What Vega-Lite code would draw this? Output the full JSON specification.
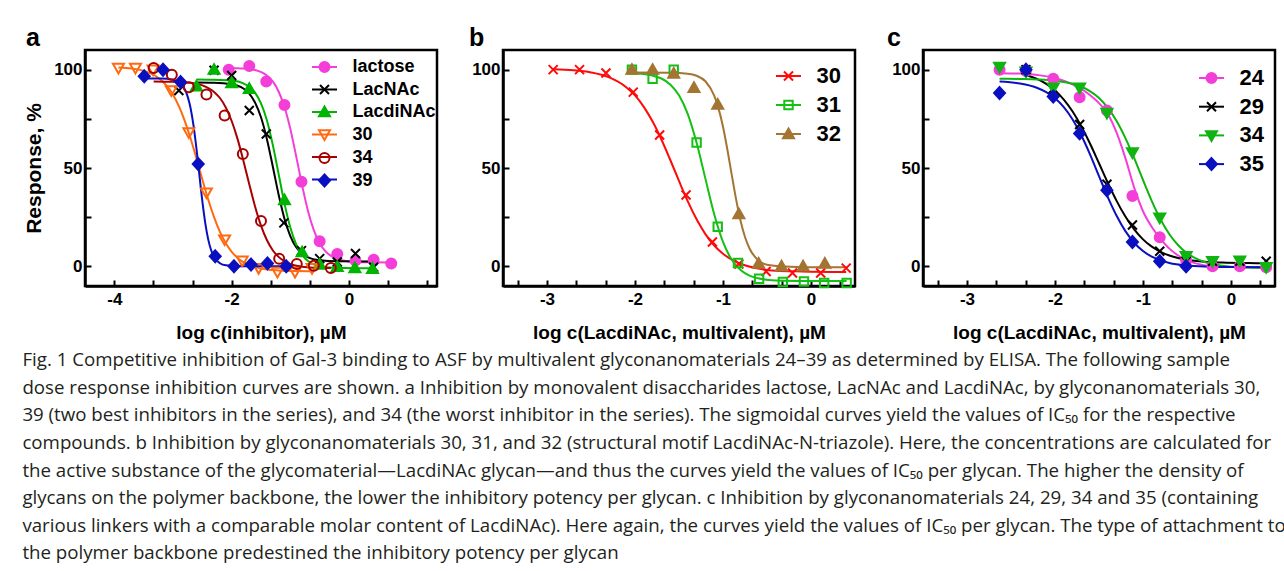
{
"$schema":"https://vega.github.io/schema/vega-lite/v6.json",
"background":"white",
"padding":{"left":22,"top":24,"right":0,"bottom":0},
"spacing":28,
"title":{"text":[
"Fig. 1  Competitive inhibition of Gal-3 binding to ASF by multivalent glyconanomaterials 24–39 as determined by ELISA. The following sample",
"dose response inhibition curves are shown. a Inhibition by monovalent disaccharides lactose, LacNAc and LacdiNAc, by glyconanomaterials 30,",
"39 (two best inhibitors in the series), and 34 (the worst inhibitor in the series). The sigmoidal curves yield the values of IC₅₀ for the respective",
"compounds. b Inhibition by glyconanomaterials 30, 31, and 32 (structural motif LacdiNAc-N-triazole). Here, the concentrations are calculated for",
"the active substance of the glycomaterial—LacdiNAc glycan—and thus the curves yield the values of IC₅₀ per glycan. The higher the density of",
"glycans on the polymer backbone, the lower the inhibitory potency per glycan. c Inhibition by glyconanomaterials 24, 29, 34 and 35 (containing",
"various linkers with a comparable molar content of LacdiNAc). Here again, the curves yield the values of IC₅₀ per glycan. The type of attachment to",
"the polymer backbone predestined the inhibitory potency per glycan"],
"orient":"bottom","anchor":"start","frame":"bounds","offset":8,"dx":0,"baseline":"top","font":"Open Sans","fontSize":18.7,"fontWeight":"normal","color":"#231f20","lineHeight":27.6},
"config":{
"view":{"stroke":"#000","strokeWidth":2.5},
"axis":{"grid":false,"domainColor":"#000","domainWidth":2.5,"tickColor":"#000","tickWidth":2,"tickSize":-6,"labelPadding":9,"labelFont":"Liberation Sans","labelFontSize":17,"labelFontWeight":"bold","labelColor":"#000","labelOverlap":false,"labelFlush":false,"labelBound":false,"titleFont":"Liberation Sans","titleFontWeight":"bold","titleColor":"#000"},
"axisX":{"titleFontSize":19,"titlePadding":16,"labelPadding":11},
"axisY":{"titleFontSize":21,"titlePadding":9}
},
"datasets":{
"a_pts":[
{"s":"lactose","x":-2.05,"y":100},{"s":"lactose","x":-1.7,"y":101.9},{"s":"lactose","x":-1.41,"y":94},{"s":"lactose","x":-1.1,"y":82},{"s":"lactose","x":-0.81,"y":43},{"s":"lactose","x":-0.5,"y":12.8},{"s":"lactose","x":-0.2,"y":6.3},{"s":"lactose","x":0.11,"y":2.9},{"s":"lactose","x":0.42,"y":3.4},{"s":"lactose","x":0.72,"y":1.4},
{"s":"LacNAc","x":-2.9,"y":89.4},{"s":"LacNAc","x":-2.3,"y":99.7},{"s":"LacNAc","x":-2.0,"y":97},{"s":"LacNAc","x":-1.7,"y":79.2},{"s":"LacNAc","x":-1.41,"y":67.3},{"s":"LacNAc","x":-1.11,"y":22.1},{"s":"LacNAc","x":-0.81,"y":8},{"s":"LacNAc","x":-0.5,"y":3.9},{"s":"LacNAc","x":-0.2,"y":2.2},{"s":"LacNAc","x":0.11,"y":6.5},{"s":"LacNAc","x":0.42,"y":-0.5},
{"s":"LacdiNAc","x":-2.6,"y":91.5},{"s":"LacdiNAc","x":-2.3,"y":100},{"s":"LacdiNAc","x":-2.0,"y":93.2},{"s":"LacdiNAc","x":-1.7,"y":90.3},{"s":"LacdiNAc","x":-1.1,"y":33.7},{"s":"LacdiNAc","x":-0.8,"y":7.2},{"s":"LacdiNAc","x":-0.5,"y":0.9},{"s":"LacdiNAc","x":-0.2,"y":-0.3},{"s":"LacdiNAc","x":0.1,"y":-0.9},{"s":"LacdiNAc","x":0.4,"y":-1.2},
{"s":"30","x":-3.93,"y":100.9},{"s":"30","x":-3.64,"y":100.9},{"s":"30","x":-3.34,"y":100},{"s":"30","x":-3.03,"y":89.4},{"s":"30","x":-2.73,"y":68.1},{"s":"30","x":-2.43,"y":37.5},{"s":"30","x":-2.12,"y":13.6},{"s":"30","x":-1.82,"y":2.9},{"s":"30","x":-1.54,"y":-0.9},{"s":"30","x":-1.22,"y":-2.9},{"s":"30","x":-0.92,"y":-2.9},{"s":"30","x":-0.63,"y":-0.9},
{"s":"34","x":-3.33,"y":100.9},{"s":"34","x":-3.02,"y":97.4},{"s":"34","x":-2.73,"y":91.1},{"s":"34","x":-2.43,"y":87.4},{"s":"34","x":-2.12,"y":76.7},{"s":"34","x":-1.81,"y":57.1},{"s":"34","x":-1.5,"y":23},{"s":"34","x":-1.19,"y":3.9},{"s":"34","x":-0.89,"y":1.2},{"s":"34","x":-0.6,"y":0.3},{"s":"34","x":-0.31,"y":-0.9},
{"s":"39","x":-3.49,"y":96.6},{"s":"39","x":-3.17,"y":100},{"s":"39","x":-2.87,"y":93.7},{"s":"39","x":-2.57,"y":52},{"s":"39","x":-2.28,"y":5.1},{"s":"39","x":-1.96,"y":0},{"s":"39","x":-1.67,"y":0.9},{"s":"39","x":-1.39,"y":1.5},{"s":"39","x":-1.07,"y":0}
],
"a_fit":[
{"s":"lactose","x":-2.05,"y":100.9},{"s":"lactose","x":-1.8,"y":100.6},{"s":"lactose","x":-1.6,"y":99.8},{"s":"lactose","x":-1.4,"y":97},{"s":"lactose","x":-1.3,"y":94},{"s":"lactose","x":-1.2,"y":88.9},{"s":"lactose","x":-1.1,"y":81},{"s":"lactose","x":-1.0,"y":69.9},{"s":"lactose","x":-0.9,"y":55.9},{"s":"lactose","x":-0.8,"y":41.3},{"s":"lactose","x":-0.7,"y":28.3},{"s":"lactose","x":-0.6,"y":18.4},{"s":"lactose","x":-0.5,"y":11.7},{"s":"lactose","x":-0.4,"y":7.6},{"s":"lactose","x":-0.3,"y":5.2},{"s":"lactose","x":-0.2,"y":3.8},{"s":"lactose","x":0.0,"y":2.5},{"s":"lactose","x":0.3,"y":2.1},{"s":"lactose","x":0.72,"y":2.0},
{"s":"LacNAc","x":-2.6,"y":93.5},{"s":"LacNAc","x":-2.3,"y":93.4},{"s":"LacNAc","x":-2.0,"y":92.6},{"s":"LacNAc","x":-1.8,"y":90.4},{"s":"LacNAc","x":-1.7,"y":87.8},{"s":"LacNAc","x":-1.6,"y":83.2},{"s":"LacNAc","x":-1.5,"y":75.8},{"s":"LacNAc","x":-1.4,"y":64.8},{"s":"LacNAc","x":-1.3,"y":50.9},{"s":"LacNAc","x":-1.2,"y":36.5},{"s":"LacNAc","x":-1.1,"y":24.2},{"s":"LacNAc","x":-1.0,"y":15.4},{"s":"LacNAc","x":-0.9,"y":9.7},{"s":"LacNAc","x":-0.8,"y":6.4},{"s":"LacNAc","x":-0.7,"y":4.6},{"s":"LacNAc","x":-0.5,"y":3.1},{"s":"LacNAc","x":-0.2,"y":2.6},{"s":"LacNAc","x":0.42,"y":2.5},
{"s":"LacdiNAc","x":-2.6,"y":95},{"s":"LacdiNAc","x":-2.3,"y":94.9},{"s":"LacdiNAc","x":-2.0,"y":94.45},{"s":"LacdiNAc","x":-1.8,"y":93},{"s":"LacdiNAc","x":-1.7,"y":91.3},{"s":"LacdiNAc","x":-1.6,"y":88.2},{"s":"LacdiNAc","x":-1.5,"y":82.9},{"s":"LacdiNAc","x":-1.4,"y":74.3},{"s":"LacdiNAc","x":-1.3,"y":61.9},{"s":"LacdiNAc","x":-1.2,"y":47},{"s":"LacdiNAc","x":-1.1,"y":32},{"s":"LacdiNAc","x":-1.0,"y":19.7},{"s":"LacdiNAc","x":-0.9,"y":11.1},{"s":"LacdiNAc","x":-0.8,"y":5.8},{"s":"LacdiNAc","x":-0.7,"y":2.7},{"s":"LacdiNAc","x":-0.6,"y":0.96},{"s":"LacdiNAc","x":-0.4,"y":-0.45},{"s":"LacdiNAc","x":-0.1,"y":-0.9},{"s":"LacdiNAc","x":0.45,"y":-1.0},
{"s":"30","x":-3.93,"y":101.1},{"s":"30","x":-3.7,"y":100.6},{"s":"30","x":-3.5,"y":99.4},{"s":"30","x":-3.3,"y":96.9},{"s":"30","x":-3.1,"y":91.6},{"s":"30","x":-3.0,"y":87.3},{"s":"30","x":-2.9,"y":81.5},{"s":"30","x":-2.8,"y":74},{"s":"30","x":-2.7,"y":65},{"s":"30","x":-2.6,"y":54.8},{"s":"30","x":-2.5,"y":44.2},{"s":"30","x":-2.4,"y":34},{"s":"30","x":-2.3,"y":25},{"s":"30","x":-2.2,"y":17.5},{"s":"30","x":-2.1,"y":11.7},{"s":"30","x":-2.0,"y":7.4},{"s":"30","x":-1.9,"y":4.3},{"s":"30","x":-1.8,"y":2.1},{"s":"30","x":-1.6,"y":-0.4},{"s":"30","x":-1.4,"y":-1.6},{"s":"30","x":-1.2,"y":-2.1},{"s":"30","x":-0.9,"y":-2.4},{"s":"30","x":-0.63,"y":-2.5},
{"s":"34","x":-3.33,"y":94},{"s":"34","x":-3.0,"y":93.8},{"s":"34","x":-2.7,"y":93.3},{"s":"34","x":-2.5,"y":92},{"s":"34","x":-2.3,"y":88.7},{"s":"34","x":-2.2,"y":85.6},{"s":"34","x":-2.1,"y":80.8},{"s":"34","x":-2.0,"y":73.9},{"s":"34","x":-1.9,"y":64.8},{"s":"34","x":-1.8,"y":53.7},{"s":"34","x":-1.7,"y":41.7},{"s":"34","x":-1.6,"y":30.3},{"s":"34","x":-1.5,"y":20.7},{"s":"34","x":-1.4,"y":13.4},{"s":"34","x":-1.3,"y":8.2},{"s":"34","x":-1.2,"y":4.8},{"s":"34","x":-1.1,"y":2.6},{"s":"34","x":-1.0,"y":1.2},{"s":"34","x":-0.8,"y":-0.2},{"s":"34","x":-0.6,"y":-0.7},{"s":"34","x":-0.31,"y":-0.9},
{"s":"39","x":-3.49,"y":95.5},{"s":"39","x":-3.2,"y":95.5},{"s":"39","x":-3.0,"y":94.9},{"s":"39","x":-2.9,"y":93.7},{"s":"39","x":-2.8,"y":90.1},{"s":"39","x":-2.75,"y":86.3},{"s":"39","x":-2.7,"y":80.4},{"s":"39","x":-2.65,"y":71.5},{"s":"39","x":-2.6,"y":59.8},{"s":"39","x":-2.55,"y":46.4},{"s":"39","x":-2.5,"y":33.1},{"s":"39","x":-2.45,"y":22},{"s":"39","x":-2.4,"y":13.7},{"s":"39","x":-2.35,"y":8.2},{"s":"39","x":-2.3,"y":4.8},{"s":"39","x":-2.2,"y":1.6},{"s":"39","x":-2.1,"y":0.5},{"s":"39","x":-1.9,"y":0.1},{"s":"39","x":-1.07,"y":0}
],
"b_pts":[
{"s":"30","x":-2.93,"y":100},{"s":"30","x":-2.63,"y":100},{"s":"30","x":-2.33,"y":98.3},{"s":"30","x":-2.02,"y":88.6},{"s":"30","x":-1.72,"y":66.8},{"s":"30","x":-1.42,"y":36.3},{"s":"30","x":-1.12,"y":12.4},{"s":"30","x":-0.82,"y":1.2},{"s":"30","x":-0.51,"y":-2.6},{"s":"30","x":-0.21,"y":-3.4},{"s":"30","x":0.11,"y":-3.4},{"s":"30","x":0.4,"y":-0.9},
{"s":"31","x":-2.035,"y":100},{"s":"31","x":-1.8,"y":95.4},{"s":"31","x":-1.56,"y":100},{"s":"31","x":-1.3,"y":63},{"s":"31","x":-1.06,"y":20.1},{"s":"31","x":-0.83,"y":1.7},{"s":"31","x":-0.59,"y":-6.3},{"s":"31","x":-0.32,"y":-8},{"s":"31","x":-0.08,"y":-7.7},{"s":"31","x":0.15,"y":-8.5},{"s":"31","x":0.405,"y":-8.5},
{"s":"32","x":-2.035,"y":100},{"s":"32","x":-1.8,"y":100},{"s":"32","x":-1.56,"y":98},{"s":"32","x":-1.33,"y":90.8},{"s":"32","x":-1.06,"y":82.3},{"s":"32","x":-0.82,"y":26.6},{"s":"32","x":-0.595,"y":1.4},{"s":"32","x":-0.335,"y":0},{"s":"32","x":-0.09,"y":0},{"s":"32","x":0.157,"y":1.4}
],
"b_fit":[
{"s":"30","x":-2.93,"y":100.2},{"s":"30","x":-2.7,"y":99.7},{"s":"30","x":-2.5,"y":98.6},{"s":"30","x":-2.3,"y":96.2},{"s":"30","x":-2.1,"y":91.1},{"s":"30","x":-2.0,"y":86.9},{"s":"30","x":-1.9,"y":81.1},{"s":"30","x":-1.8,"y":73.6},{"s":"30","x":-1.7,"y":64.5},{"s":"30","x":-1.6,"y":54.2},{"s":"30","x":-1.5,"y":43.4},{"s":"30","x":-1.4,"y":33},{"s":"30","x":-1.3,"y":23.9},{"s":"30","x":-1.2,"y":16.4},{"s":"30","x":-1.1,"y":10.6},{"s":"30","x":-1.0,"y":6.4},{"s":"30","x":-0.9,"y":3.4},{"s":"30","x":-0.8,"y":1.3},{"s":"30","x":-0.6,"y":-1.1},{"s":"30","x":-0.4,"y":-2.2},{"s":"30","x":-0.1,"y":-2.6},{"s":"30","x":0.4,"y":-2.9},
{"s":"31","x":-2.035,"y":98.2},{"s":"31","x":-1.9,"y":97.8},{"s":"31","x":-1.8,"y":97},{"s":"31","x":-1.7,"y":95.5},{"s":"31","x":-1.6,"y":92.5},{"s":"31","x":-1.5,"y":87},{"s":"31","x":-1.4,"y":77.4},{"s":"31","x":-1.3,"y":62.8},{"s":"31","x":-1.2,"y":44.6},{"s":"31","x":-1.1,"y":26.5},{"s":"31","x":-1.0,"y":12.4},{"s":"31","x":-0.9,"y":3.3},{"s":"31","x":-0.8,"y":-1.9},{"s":"31","x":-0.7,"y":-4.7},{"s":"31","x":-0.6,"y":-6.1},{"s":"31","x":-0.4,"y":-7.2},{"s":"31","x":-0.1,"y":-7.45},{"s":"31","x":0.405,"y":-7.5},
{"s":"32","x":-2.035,"y":98.5},{"s":"32","x":-1.6,"y":98.4},{"s":"32","x":-1.4,"y":97.95},{"s":"32","x":-1.3,"y":96.9},{"s":"32","x":-1.2,"y":94.1},{"s":"32","x":-1.1,"y":86.8},{"s":"32","x":-1.05,"y":80.2},{"s":"32","x":-1.0,"y":71},{"s":"32","x":-0.95,"y":59.3},{"s":"32","x":-0.9,"y":46.4},{"s":"32","x":-0.85,"y":33.8},{"s":"32","x":-0.8,"y":23},{"s":"32","x":-0.75,"y":14.9},{"s":"32","x":-0.7,"y":9.2},{"s":"32","x":-0.6,"y":3.1},{"s":"32","x":-0.5,"y":0.8},{"s":"32","x":-0.3,"y":-0.1},{"s":"32","x":0.0,"y":-0.45},{"s":"32","x":0.405,"y":-0.5}
],
"c_pts":[
{"s":"24","x":-2.63,"y":100},{"s":"24","x":-2.33,"y":99.3},{"s":"24","x":-2.02,"y":95.4},{"s":"24","x":-1.72,"y":86},{"s":"24","x":-1.41,"y":79.2},{"s":"24","x":-1.12,"y":35.8},{"s":"24","x":-0.81,"y":14.8},{"s":"24","x":-0.51,"y":3.1},{"s":"24","x":-0.21,"y":0},{"s":"24","x":0.1,"y":0},{"s":"24","x":0.4,"y":-0.5},
{"s":"29","x":-2.33,"y":100},{"s":"29","x":-2.02,"y":90.3},{"s":"29","x":-1.72,"y":72.1},{"s":"29","x":-1.41,"y":41.7},{"s":"29","x":-1.12,"y":21},{"s":"29","x":-0.81,"y":7.7},{"s":"29","x":-0.51,"y":2.6},{"s":"29","x":-0.21,"y":2.6},{"s":"29","x":0.1,"y":2.6},{"s":"29","x":0.4,"y":2.6},
{"s":"34","x":-2.63,"y":101.4},{"s":"34","x":-2.33,"y":99},{"s":"34","x":-2.02,"y":90.8},{"s":"34","x":-1.72,"y":90.8},{"s":"34","x":-1.41,"y":78},{"s":"34","x":-1.12,"y":57.9},{"s":"34","x":-0.81,"y":24.7},{"s":"34","x":-0.51,"y":5.1},{"s":"34","x":-0.21,"y":2.6},{"s":"34","x":0.1,"y":2.9},{"s":"34","x":0.4,"y":-0.5},
{"s":"35","x":-2.63,"y":88.1},{"s":"35","x":-2.33,"y":100},{"s":"35","x":-2.02,"y":86.4},{"s":"35","x":-1.72,"y":67.6},{"s":"35","x":-1.41,"y":38.7},{"s":"35","x":-1.12,"y":12.4},{"s":"35","x":-0.81,"y":2.6},{"s":"35","x":-0.51,"y":0}
],
"c_fit":[
{"s":"24","x":-2.63,"y":98.2},{"s":"24","x":-2.4,"y":98},{"s":"24","x":-2.2,"y":97.3},{"s":"24","x":-2.0,"y":95.8},{"s":"24","x":-1.8,"y":92.5},{"s":"24","x":-1.6,"y":87},{"s":"24","x":-1.5,"y":83},{"s":"24","x":-1.4,"y":77.5},{"s":"24","x":-1.3,"y":68},{"s":"24","x":-1.2,"y":55},{"s":"24","x":-1.1,"y":40},{"s":"24","x":-1.0,"y":28},{"s":"24","x":-0.9,"y":20},{"s":"24","x":-0.8,"y":14},{"s":"24","x":-0.7,"y":9},{"s":"24","x":-0.6,"y":5.5},{"s":"24","x":-0.5,"y":3},{"s":"24","x":-0.4,"y":1.5},{"s":"24","x":-0.2,"y":0},{"s":"24","x":0.1,"y":-0.4},{"s":"24","x":0.405,"y":-0.5},
{"s":"29","x":-2.33,"y":97.3},{"s":"29","x":-2.2,"y":95.2},{"s":"29","x":-2.1,"y":92.8},{"s":"29","x":-2.0,"y":89.4},{"s":"29","x":-1.9,"y":84.8},{"s":"29","x":-1.8,"y":78.7},{"s":"29","x":-1.7,"y":71.1},{"s":"29","x":-1.6,"y":62.2},{"s":"29","x":-1.5,"y":52.4},{"s":"29","x":-1.4,"y":42.5},{"s":"29","x":-1.3,"y":33.3},{"s":"29","x":-1.2,"y":25.3},{"s":"29","x":-1.1,"y":18.8},{"s":"29","x":-1.0,"y":13.7},{"s":"29","x":-0.9,"y":10},{"s":"29","x":-0.8,"y":7.4},{"s":"29","x":-0.7,"y":5.5},{"s":"29","x":-0.6,"y":4.2},{"s":"29","x":-0.5,"y":3.3},{"s":"29","x":-0.3,"y":2.3},{"s":"29","x":-0.1,"y":1.9},{"s":"29","x":0.2,"y":1.65},{"s":"29","x":0.405,"y":1.6},
{"s":"34","x":-2.63,"y":95.4},{"s":"34","x":-2.4,"y":95.3},{"s":"34","x":-2.2,"y":95.06},{"s":"34","x":-2.0,"y":94.4},{"s":"34","x":-1.8,"y":92.8},{"s":"34","x":-1.7,"y":91.3},{"s":"34","x":-1.6,"y":89},{"s":"34","x":-1.5,"y":85.6},{"s":"34","x":-1.4,"y":80.6},{"s":"34","x":-1.3,"y":73.9},{"s":"34","x":-1.2,"y":65.2},{"s":"34","x":-1.1,"y":55},{"s":"34","x":-1.0,"y":43.9},{"s":"34","x":-0.9,"y":33.2},{"s":"34","x":-0.8,"y":23.85},{"s":"34","x":-0.7,"y":16.3},{"s":"34","x":-0.6,"y":10.7},{"s":"34","x":-0.5,"y":6.7},{"s":"34","x":-0.4,"y":4},{"s":"34","x":-0.3,"y":2.2},{"s":"34","x":-0.1,"y":0.3},{"s":"34","x":0.1,"y":-0.5},{"s":"34","x":0.405,"y":-0.8},
{"s":"35","x":-2.63,"y":93.96},{"s":"35","x":-2.4,"y":92.95},{"s":"35","x":-2.2,"y":90.7},{"s":"35","x":-2.1,"y":88.6},{"s":"35","x":-2.0,"y":85.5},{"s":"35","x":-1.9,"y":81},{"s":"35","x":-1.8,"y":74.7},{"s":"35","x":-1.7,"y":66.5},{"s":"35","x":-1.6,"y":56.7},{"s":"35","x":-1.5,"y":45.9},{"s":"35","x":-1.4,"y":35.2},{"s":"35","x":-1.3,"y":25.7},{"s":"35","x":-1.2,"y":17.9},{"s":"35","x":-1.1,"y":12},{"s":"35","x":-1.0,"y":7.8},{"s":"35","x":-0.9,"y":4.9},{"s":"35","x":-0.8,"y":3},{"s":"35","x":-0.7,"y":1.7},{"s":"35","x":-0.5,"y":0.4},{"s":"35","x":-0.3,"y":-0.14},{"s":"35","x":0.0,"y":-0.4},{"s":"35","x":0.405,"y":-0.5}
]
},
"hconcat":[
{
"width":352,"height":236,
"title":{"text":"a","anchor":"start","frame":"group","dx":-59,"offset":-21,"baseline":"alphabetic","font":"Liberation Sans","fontSize":25,"fontWeight":"bold","color":"#000"},
"layer":[
{"data":{"name":"a_fit"},"mark":{"type":"line","interpolate":"monotone","strokeWidth":2},
"encoding":{
"x":{"field":"x","type":"quantitative","scale":{"domain":[-4.5,1.5],"nice":false,"zero":false},"axis":{"title":"log c(inhibitor), µM","labelOverlap":false,"values":[-4,-3.333,-2.667,-2,-1.333,-0.667,0,0.667,1.333],"labelExpr":"abs(datum.value-round(datum.value))<0.01 && round(datum.value)%2==0 ? (round(datum.value)<0 ? '-'+(-round(datum.value)) : '0') : ''"}},
"y":{"field":"y","type":"quantitative","scale":{"domain":[-10,110],"nice":false,"zero":false},"axis":{"title":"Response, %","labelOverlap":false,"values":[0,12.5,25,37.5,50,62.5,75,87.5,100],"labelExpr":"datum.value==0?'0':datum.value==50?'50':datum.value==100?'100':''"}},
"stroke":{"field":"s","type":"nominal","scale":{"domain":["lactose","LacNAc","LacdiNAc","30","34","39"],"range":["#f43ed8","#000000","#00b400","#ff6a10","#a80000","#0a10c0"]},
"legend":{"orient":"none","legendX":228.5,"legendY":6,"title":null,"padding":0,"symbolType":"M-1.25,0H1.25","symbolSize":400,"symbolStrokeWidth":2,"labelOpacity":0,"labelFont":"Liberation Sans","labelFontSize":18,"labelFontWeight":"bold","labelOffset":17,"rowPadding":2.5}}}},
{"data":{"name":"a_pts"},"mark":{"type":"point","size":400,"strokeWidth":2,"opacity":1},
"encoding":{
"x":{"field":"x","type":"quantitative"},
"y":{"field":"y","type":"quantitative"},
"stroke":{"field":"s","type":"nominal","legend":{"orient":"none","legendX":228.5,"legendY":6,"title":null,"padding":0,"symbolSize":400,"symbolStrokeWidth":2,"symbolOpacity":1,"labelFont":"Liberation Sans","labelFontSize":18,"labelFontWeight":"bold","labelColor":"#000","labelOffset":17,"rowPadding":2.5}},
"fill":{"field":"s","type":"nominal","scale":{"domain":["lactose","LacNAc","LacdiNAc","30","34","39"],"range":["#f43ed8","#ffffff00","#00b400","#ffffff00","#ffffff00","#0a10c0"]},"legend":{"orient":"none","legendX":228.5,"legendY":6,"title":null,"padding":0,"symbolSize":400,"symbolStrokeWidth":2,"symbolOpacity":1,"labelFont":"Liberation Sans","labelFontSize":18,"labelFontWeight":"bold","labelColor":"#000","labelOffset":17,"rowPadding":2.5}},
"shape":{"field":"s","type":"nominal","scale":{"domain":["lactose","LacNAc","LacdiNAc","30","34","39"],"range":["M-0.5,0A0.5,0.5,0,1,1,0.5,0A0.5,0.5,0,1,1,-0.5,0Z","M-0.45,-0.45L0.45,0.45M-0.45,0.45L0.45,-0.45","M0,-0.55L0.55,0.42L-0.55,0.42Z","M-0.55,-0.42L0.55,-0.42L0,0.55Z","M-0.5,0A0.5,0.5,0,1,1,0.5,0A0.5,0.5,0,1,1,-0.5,0Z","M0,-0.6L0.55,0L0,0.6L-0.55,0Z"]},"legend":{"orient":"none","legendX":228.5,"legendY":6,"title":null,"padding":0,"symbolSize":400,"symbolStrokeWidth":2,"symbolOpacity":1,"labelFont":"Liberation Sans","labelFontSize":18,"labelFontWeight":"bold","labelColor":"#000","labelOffset":17,"rowPadding":2.5}}}}
],
"resolve":{"legend":{"stroke":"independent","fill":"independent","shape":"independent"}}
},
{
"width":352,"height":236,
"title":{"text":"b","anchor":"start","frame":"group","dx":-34,"offset":-21,"baseline":"alphabetic","font":"Liberation Sans","fontSize":25,"fontWeight":"bold","color":"#000"},
"layer":[
{"data":{"name":"b_fit"},"mark":{"type":"line","interpolate":"monotone","strokeWidth":2},
"encoding":{
"x":{"field":"x","type":"quantitative","scale":{"domain":[-3.5,0.5],"nice":false,"zero":false},"axis":{"title":"log c(LacdiNAc, multivalent), µM","labelOverlap":false,"values":[-3,-2,-1,0],"labelExpr":"datum.value<0 ? '-'+(-datum.value) : '0'"}},
"y":{"field":"y","type":"quantitative","scale":{"domain":[-10,110],"nice":false,"zero":false},"axis":{"title":null,"labelOverlap":false,"values":[0,12.5,25,37.5,50,62.5,75,87.5,100],"labelExpr":"datum.value==0?'0':datum.value==50?'50':datum.value==100?'100':''"}},
"stroke":{"field":"s","type":"nominal","scale":{"domain":["30","31","32"],"range":["#ff0a0a","#14c014","#a47432"]},
"legend":{"orient":"none","legendX":274.5,"legendY":15,"title":null,"padding":0,"symbolType":"M-1.25,0H1.25","symbolSize":400,"symbolStrokeWidth":2,"labelOpacity":0,"labelFont":"Liberation Sans","labelFontSize":22,"labelFontWeight":"bold","labelOffset":17,"rowPadding":7}}}},
{"data":{"name":"b_pts"},"mark":{"type":"point","size":400,"strokeWidth":2,"opacity":1},
"encoding":{
"x":{"field":"x","type":"quantitative","axis":{"orient":"bottom","values":[-3.333,-2.667,-2.333,-1.667,-1.333,-0.667,-0.333,0.333],"labels":false,"title":null,"domain":false}},
"y":{"field":"y","type":"quantitative"},
"stroke":{"field":"s","type":"nominal","legend":{"orient":"none","legendX":274.5,"legendY":15,"title":null,"padding":0,"symbolSize":400,"symbolStrokeWidth":2,"symbolOpacity":1,"labelFont":"Liberation Sans","labelFontSize":22,"labelFontWeight":"bold","labelColor":"#000","labelOffset":17,"rowPadding":7}},
"fill":{"field":"s","type":"nominal","scale":{"domain":["30","31","32"],"range":["#ffffff00","#ffffff00","#a47432"]},"legend":{"orient":"none","legendX":274.5,"legendY":15,"title":null,"padding":0,"symbolSize":400,"symbolStrokeWidth":2,"symbolOpacity":1,"labelFont":"Liberation Sans","labelFontSize":22,"labelFontWeight":"bold","labelColor":"#000","labelOffset":17,"rowPadding":7}},
"shape":{"field":"s","type":"nominal","scale":{"domain":["30","31","32"],"range":["M-0.45,-0.45L0.45,0.45M-0.45,0.45L0.45,-0.45","M-0.42,-0.42H0.42V0.42H-0.42Z","M0,-0.55L0.55,0.42L-0.55,0.42Z"]},"legend":{"orient":"none","legendX":274.5,"legendY":15,"title":null,"padding":0,"symbolSize":400,"symbolStrokeWidth":2,"symbolOpacity":1,"labelFont":"Liberation Sans","labelFontSize":22,"labelFontWeight":"bold","labelColor":"#000","labelOffset":17,"rowPadding":7}}}}
],
"resolve":{"axis":{"x":"independent"},"legend":{"stroke":"independent","fill":"independent","shape":"independent"}}
},
{
"width":352,"height":236,
"title":{"text":"c","anchor":"start","frame":"group","dx":-36,"offset":-21,"baseline":"alphabetic","font":"Liberation Sans","fontSize":25,"fontWeight":"bold","color":"#000"},
"layer":[
{"data":{"name":"c_fit"},"mark":{"type":"line","interpolate":"monotone","strokeWidth":2},
"encoding":{
"x":{"field":"x","type":"quantitative","scale":{"domain":[-3.5,0.5],"nice":false,"zero":false},"axis":{"title":"log c(LacdiNAc, multivalent), µM","labelOverlap":false,"values":[-3,-2,-1,0],"labelExpr":"datum.value<0 ? '-'+(-datum.value) : '0'"}},
"y":{"field":"y","type":"quantitative","scale":{"domain":[-10,110],"nice":false,"zero":false},"axis":{"title":null,"labelOverlap":false,"values":[0,12.5,25,37.5,50,62.5,75,87.5,100],"labelExpr":"datum.value==0?'0':datum.value==50?'50':datum.value==100?'100':''"}},
"stroke":{"field":"s","type":"nominal","scale":{"domain":["24","29","34","35"],"range":["#f43ed8","#000000","#10b410","#0a10c0"]},
"legend":{"orient":"none","legendX":277.5,"legendY":17,"title":null,"padding":0,"symbolType":"M-1.25,0H1.25","symbolSize":400,"symbolStrokeWidth":2,"labelOpacity":0,"labelFont":"Liberation Sans","labelFontSize":22,"labelFontWeight":"bold","labelOffset":17,"rowPadding":6.7}}}},
{"data":{"name":"c_pts"},"mark":{"type":"point","size":400,"strokeWidth":2,"opacity":1},
"encoding":{
"x":{"field":"x","type":"quantitative","axis":{"orient":"bottom","values":[-3.333,-2.667,-2.333,-1.667,-1.333,-0.667,-0.333,0.333],"labels":false,"title":null,"domain":false}},
"y":{"field":"y","type":"quantitative"},
"stroke":{"field":"s","type":"nominal","legend":{"orient":"none","legendX":277.5,"legendY":17,"title":null,"padding":0,"symbolSize":400,"symbolStrokeWidth":2,"symbolOpacity":1,"labelFont":"Liberation Sans","labelFontSize":22,"labelFontWeight":"bold","labelColor":"#000","labelOffset":17,"rowPadding":6.7}},
"fill":{"field":"s","type":"nominal","scale":{"domain":["24","29","34","35"],"range":["#f43ed8","#ffffff00","#10b410","#0a10c0"]},"legend":{"orient":"none","legendX":277.5,"legendY":17,"title":null,"padding":0,"symbolSize":400,"symbolStrokeWidth":2,"symbolOpacity":1,"labelFont":"Liberation Sans","labelFontSize":22,"labelFontWeight":"bold","labelColor":"#000","labelOffset":17,"rowPadding":6.7}},
"shape":{"field":"s","type":"nominal","scale":{"domain":["24","29","34","35"],"range":["M-0.5,0A0.5,0.5,0,1,1,0.5,0A0.5,0.5,0,1,1,-0.5,0Z","M-0.45,-0.45L0.45,0.45M-0.45,0.45L0.45,-0.45","M-0.55,-0.42L0.55,-0.42L0,0.55Z","M0,-0.6L0.55,0L0,0.6L-0.55,0Z"]},"legend":{"orient":"none","legendX":277.5,"legendY":17,"title":null,"padding":0,"symbolSize":400,"symbolStrokeWidth":2,"symbolOpacity":1,"labelFont":"Liberation Sans","labelFontSize":22,"labelFontWeight":"bold","labelColor":"#000","labelOffset":17,"rowPadding":6.7}}}}
],
"resolve":{"axis":{"x":"independent"},"legend":{"stroke":"independent","fill":"independent","shape":"independent"}}
}
],
"resolve":{"scale":{"x":"independent","y":"independent","stroke":"independent","fill":"independent","shape":"independent"}}
}
